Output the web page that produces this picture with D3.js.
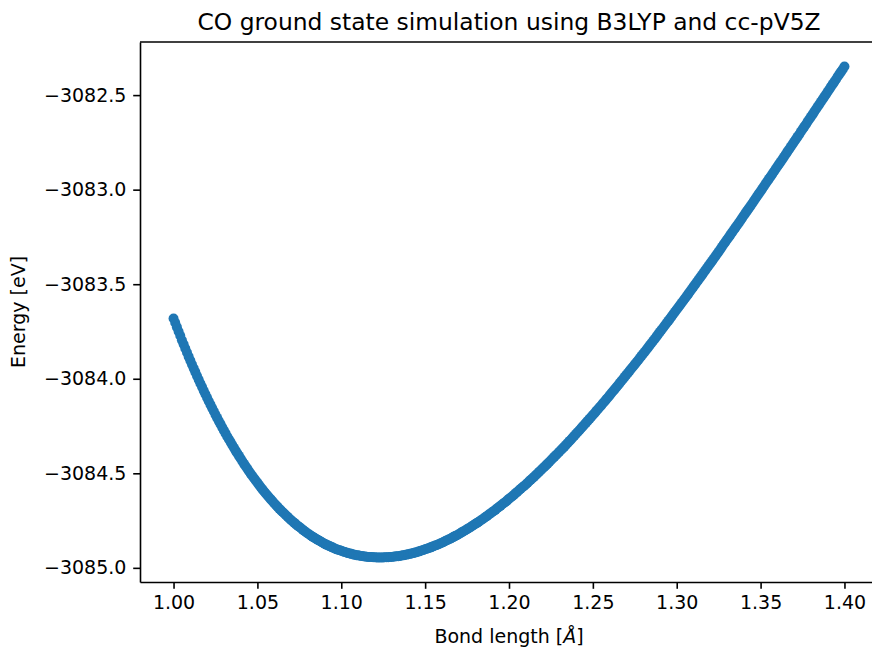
<!DOCTYPE html>
<html>
<head>
<meta charset="utf-8">
<script src="https://cdn.jsdelivr.net/npm/d3@7"></script>
<style>
  body { margin: 0; background: white; }
  text { font-family: "DejaVu Sans", sans-serif; fill: #000; }
</style>
</head>
<body>
<div id="container"></div>
<script>
let w = 872;
let h = 648;

// bond length [Å], one row per 0.01
let bondLength = [
  1.000, 1.001, 1.002, 1.003, 1.004, 1.005, 1.006, 1.007, 1.008, 1.009,
  1.010, 1.011, 1.012, 1.013, 1.014, 1.015, 1.016, 1.017, 1.018, 1.019,
  1.020, 1.021, 1.022, 1.023, 1.024, 1.025, 1.026, 1.027, 1.028, 1.029,
  1.030, 1.031, 1.032, 1.033, 1.034, 1.035, 1.036, 1.037, 1.038, 1.039,
  1.040, 1.041, 1.042, 1.043, 1.044, 1.045, 1.046, 1.047, 1.048, 1.049,
  1.050, 1.051, 1.052, 1.053, 1.054, 1.055, 1.056, 1.057, 1.058, 1.059,
  1.060, 1.061, 1.062, 1.063, 1.064, 1.065, 1.066, 1.067, 1.068, 1.069,
  1.070, 1.071, 1.072, 1.073, 1.074, 1.075, 1.076, 1.077, 1.078, 1.079,
  1.080, 1.081, 1.082, 1.083, 1.084, 1.085, 1.086, 1.087, 1.088, 1.089,
  1.090, 1.091, 1.092, 1.093, 1.094, 1.095, 1.096, 1.097, 1.098, 1.099,
  1.100, 1.101, 1.102, 1.103, 1.104, 1.105, 1.106, 1.107, 1.108, 1.109,
  1.110, 1.111, 1.112, 1.113, 1.114, 1.115, 1.116, 1.117, 1.118, 1.119,
  1.120, 1.121, 1.122, 1.123, 1.124, 1.125, 1.126, 1.127, 1.128, 1.129,
  1.130, 1.131, 1.132, 1.133, 1.134, 1.135, 1.136, 1.137, 1.138, 1.139,
  1.140, 1.141, 1.142, 1.143, 1.144, 1.145, 1.146, 1.147, 1.148, 1.149,
  1.150, 1.151, 1.152, 1.153, 1.154, 1.155, 1.156, 1.157, 1.158, 1.159,
  1.160, 1.161, 1.162, 1.163, 1.164, 1.165, 1.166, 1.167, 1.168, 1.169,
  1.170, 1.171, 1.172, 1.173, 1.174, 1.175, 1.176, 1.177, 1.178, 1.179,
  1.180, 1.181, 1.182, 1.183, 1.184, 1.185, 1.186, 1.187, 1.188, 1.189,
  1.190, 1.191, 1.192, 1.193, 1.194, 1.195, 1.196, 1.197, 1.198, 1.199,
  1.200, 1.201, 1.202, 1.203, 1.204, 1.205, 1.206, 1.207, 1.208, 1.209,
  1.210, 1.211, 1.212, 1.213, 1.214, 1.215, 1.216, 1.217, 1.218, 1.219,
  1.220, 1.221, 1.222, 1.223, 1.224, 1.225, 1.226, 1.227, 1.228, 1.229,
  1.230, 1.231, 1.232, 1.233, 1.234, 1.235, 1.236, 1.237, 1.238, 1.239,
  1.240, 1.241, 1.242, 1.243, 1.244, 1.245, 1.246, 1.247, 1.248, 1.249,
  1.250, 1.251, 1.252, 1.253, 1.254, 1.255, 1.256, 1.257, 1.258, 1.259,
  1.260, 1.261, 1.262, 1.263, 1.264, 1.265, 1.266, 1.267, 1.268, 1.269,
  1.270, 1.271, 1.272, 1.273, 1.274, 1.275, 1.276, 1.277, 1.278, 1.279,
  1.280, 1.281, 1.282, 1.283, 1.284, 1.285, 1.286, 1.287, 1.288, 1.289,
  1.290, 1.291, 1.292, 1.293, 1.294, 1.295, 1.296, 1.297, 1.298, 1.299,
  1.300, 1.301, 1.302, 1.303, 1.304, 1.305, 1.306, 1.307, 1.308, 1.309,
  1.310, 1.311, 1.312, 1.313, 1.314, 1.315, 1.316, 1.317, 1.318, 1.319,
  1.320, 1.321, 1.322, 1.323, 1.324, 1.325, 1.326, 1.327, 1.328, 1.329,
  1.330, 1.331, 1.332, 1.333, 1.334, 1.335, 1.336, 1.337, 1.338, 1.339,
  1.340, 1.341, 1.342, 1.343, 1.344, 1.345, 1.346, 1.347, 1.348, 1.349,
  1.350, 1.351, 1.352, 1.353, 1.354, 1.355, 1.356, 1.357, 1.358, 1.359,
  1.360, 1.361, 1.362, 1.363, 1.364, 1.365, 1.366, 1.367, 1.368, 1.369,
  1.370, 1.371, 1.372, 1.373, 1.374, 1.375, 1.376, 1.377, 1.378, 1.379,
  1.380, 1.381, 1.382, 1.383, 1.384, 1.385, 1.386, 1.387, 1.388, 1.389,
  1.390, 1.391, 1.392, 1.393, 1.394, 1.395, 1.396, 1.397, 1.398, 1.399,
  1.400
];

// energy [eV], same rows as bondLength
let energy = [
  -3083.681, -3083.704, -3083.727, -3083.750, -3083.773, -3083.796, -3083.818, -3083.840, -3083.861, -3083.883,
  -3083.904, -3083.925, -3083.945, -3083.965, -3083.985, -3084.005, -3084.025, -3084.044, -3084.063, -3084.082,
  -3084.100, -3084.119, -3084.137, -3084.155, -3084.172, -3084.190, -3084.207, -3084.224, -3084.240, -3084.257,
  -3084.273, -3084.289, -3084.305, -3084.320, -3084.335, -3084.350, -3084.365, -3084.380, -3084.394, -3084.408,
  -3084.422, -3084.436, -3084.450, -3084.463, -3084.476, -3084.489, -3084.502, -3084.514, -3084.526, -3084.538,
  -3084.550, -3084.562, -3084.574, -3084.585, -3084.596, -3084.607, -3084.617, -3084.628, -3084.638, -3084.648,
  -3084.658, -3084.668, -3084.677, -3084.687, -3084.696, -3084.705, -3084.713, -3084.722, -3084.730, -3084.739,
  -3084.747, -3084.755, -3084.762, -3084.770, -3084.777, -3084.784, -3084.791, -3084.798, -3084.805, -3084.812,
  -3084.818, -3084.824, -3084.830, -3084.836, -3084.841, -3084.847, -3084.852, -3084.857, -3084.862, -3084.867,
  -3084.872, -3084.877, -3084.881, -3084.885, -3084.889, -3084.893, -3084.897, -3084.901, -3084.904, -3084.907,
  -3084.910, -3084.913, -3084.916, -3084.919, -3084.922, -3084.924, -3084.926, -3084.929, -3084.931, -3084.933,
  -3084.934, -3084.936, -3084.937, -3084.939, -3084.940, -3084.941, -3084.942, -3084.943, -3084.943, -3084.944,
  -3084.944, -3084.945, -3084.945, -3084.945, -3084.945, -3084.945, -3084.944, -3084.944, -3084.944, -3084.943,
  -3084.942, -3084.941, -3084.940, -3084.939, -3084.938, -3084.937, -3084.935, -3084.934, -3084.932, -3084.930,
  -3084.928, -3084.926, -3084.924, -3084.922, -3084.919, -3084.917, -3084.914, -3084.911, -3084.908, -3084.905,
  -3084.902, -3084.899, -3084.896, -3084.893, -3084.889, -3084.886, -3084.882, -3084.879, -3084.875, -3084.871,
  -3084.867, -3084.863, -3084.858, -3084.854, -3084.850, -3084.846, -3084.841, -3084.836, -3084.831, -3084.827,
  -3084.822, -3084.817, -3084.811, -3084.806, -3084.801, -3084.796, -3084.790, -3084.785, -3084.779, -3084.773,
  -3084.767, -3084.762, -3084.756, -3084.750, -3084.744, -3084.738, -3084.731, -3084.725, -3084.718, -3084.712,
  -3084.705, -3084.699, -3084.692, -3084.685, -3084.678, -3084.671, -3084.664, -3084.657, -3084.650, -3084.643,
  -3084.635, -3084.628, -3084.621, -3084.613, -3084.605, -3084.598, -3084.590, -3084.582, -3084.574, -3084.567,
  -3084.559, -3084.551, -3084.542, -3084.534, -3084.526, -3084.518, -3084.509, -3084.501, -3084.492, -3084.484,
  -3084.475, -3084.467, -3084.458, -3084.449, -3084.440, -3084.431, -3084.422, -3084.413, -3084.404, -3084.395,
  -3084.386, -3084.377, -3084.368, -3084.359, -3084.349, -3084.340, -3084.330, -3084.321, -3084.311, -3084.301,
  -3084.291, -3084.282, -3084.272, -3084.262, -3084.252, -3084.242, -3084.232, -3084.222, -3084.212, -3084.202,
  -3084.192, -3084.182, -3084.171, -3084.161, -3084.151, -3084.141, -3084.130, -3084.120, -3084.109, -3084.099,
  -3084.088, -3084.077, -3084.066, -3084.056, -3084.045, -3084.034, -3084.023, -3084.012, -3084.001, -3083.990,
  -3083.979, -3083.968, -3083.957, -3083.946, -3083.935, -3083.924, -3083.913, -3083.902, -3083.890, -3083.879,
  -3083.868, -3083.857, -3083.845, -3083.834, -3083.822, -3083.811, -3083.799, -3083.788, -3083.776, -3083.764,
  -3083.752, -3083.741, -3083.729, -3083.717, -3083.705, -3083.694, -3083.682, -3083.670, -3083.658, -3083.646,
  -3083.634, -3083.622, -3083.610, -3083.598, -3083.586, -3083.574, -3083.562, -3083.550, -3083.537, -3083.525,
  -3083.513, -3083.501, -3083.488, -3083.476, -3083.464, -3083.452, -3083.439, -3083.427, -3083.414, -3083.402,
  -3083.390, -3083.378, -3083.365, -3083.353, -3083.340, -3083.328, -3083.315, -3083.302, -3083.289, -3083.277,
  -3083.264, -3083.252, -3083.239, -3083.226, -3083.213, -3083.201, -3083.188, -3083.176, -3083.163, -3083.150,
  -3083.137, -3083.124, -3083.111, -3083.099, -3083.086, -3083.073, -3083.060, -3083.047, -3083.034, -3083.021,
  -3083.008, -3082.995, -3082.982, -3082.969, -3082.956, -3082.943, -3082.930, -3082.917, -3082.904, -3082.891,
  -3082.878, -3082.865, -3082.852, -3082.839, -3082.826, -3082.813, -3082.799, -3082.786, -3082.773, -3082.760,
  -3082.747, -3082.734, -3082.721, -3082.708, -3082.694, -3082.681, -3082.668, -3082.655, -3082.641, -3082.628,
  -3082.615, -3082.602, -3082.588, -3082.575, -3082.562, -3082.549, -3082.535, -3082.522, -3082.509, -3082.496,
  -3082.482, -3082.469, -3082.455, -3082.442, -3082.429, -3082.416, -3082.402, -3082.389, -3082.376, -3082.363,
  -3082.349
];

let xTicks = [1.00, 1.05, 1.10, 1.15, 1.20, 1.25, 1.30, 1.35, 1.40];
let yTicks = [-3085.0, -3084.5, -3084.0, -3083.5, -3083.0, -3082.5];

let titleText = "CO ground state simulation using B3LYP and cc-pV5Z";
let xLabelText = "Bond length [";
let xLabelUnit = "Å";
let yLabelText = "Energy [eV]";

let data = bondLength.map(function(b, i){
  return {x: b, y: energy[i]};
});

let viz = d3.select("#container")
    .append("svg")
      .attr("width", w)
      .attr("height", h)
      .style("background-color", "white")
;

// axes box (right edge falls outside the picture, like the original)
let axLeft = 140;
let axRight = 878;
let axTop = 42;
let axBottom = 582;

let tickLen = 6.8;
let tickPad = 6.8;
let fontSize = 19;

// matplotlib-like 5% margins
let xExt = d3.extent(bondLength);
let xPad = (xExt[1] - xExt[0]) * 0.05;
let xScale = d3.scaleLinear().domain([xExt[0] - xPad, xExt[1] + xPad]).range([axLeft, axRight]);

let yExt = d3.extent(energy);
let yPad = (yExt[1] - yExt[0]) * 0.05;
let yScale = d3.scaleLinear().domain([yExt[0] - yPad, yExt[1] + yPad]).range([axBottom, axTop]);

// dots
viz.append("g")
  .selectAll("circle")
  .data(data)
  .enter()
  .append("circle")
    .attr("cx", function(d){ return xScale(d.x); })
    .attr("cy", function(d){ return yScale(d.y); })
    .attr("r", 5.0)
    .attr("fill", "#1f77b4")
;

// frame: top and right spines
viz.append("line")
  .attr("x1", axLeft).attr("x2", axRight)
  .attr("y1", axTop).attr("y2", axTop)
  .attr("stroke", "#000").attr("stroke-width", 1.6);
viz.append("line")
  .attr("x1", axRight).attr("x2", axRight)
  .attr("y1", axTop).attr("y2", axBottom)
  .attr("stroke", "#000").attr("stroke-width", 1.6);

let xAxis = d3.axisBottom(xScale)
  .tickValues(xTicks)
  .tickFormat(d3.format(".2f"))
  .tickSizeInner(tickLen)
  .tickSizeOuter(0)
  .tickPadding(tickPad);
let xAxisGroup = viz.append("g").attr("class", "xaxis");
xAxisGroup.attr("transform", "translate(0, " + axBottom + ")");
xAxisGroup.call(xAxis);

let yAxis = d3.axisLeft(yScale)
  .tickValues(yTicks)
  .tickFormat(d3.format(".1f"))
  .tickSizeInner(tickLen)
  .tickSizeOuter(0)
  .tickPadding(tickPad);
let yAxisGroup = viz.append("g").attr("class", "yaxis");
yAxisGroup.attr("transform", "translate(" + axLeft + ", 0)");
yAxisGroup.call(yAxis);

viz.selectAll(".xaxis path, .yaxis path, .xaxis line, .yaxis line")
  .attr("stroke", "#000")
  .attr("stroke-width", 1.6);
viz.selectAll(".xaxis text, .yaxis text")
  .attr("font-family", "DejaVu Sans")
  .attr("font-size", fontSize)
  .attr("fill", "#000");

// title and labels
viz.append("text")
  .attr("x", (axLeft + axRight) / 2)
  .attr("y", 30)
  .attr("text-anchor", "middle")
  .attr("font-size", 23.4)
  .text(titleText);

let xLabel = viz.append("text")
  .attr("x", (axLeft + axRight) / 2)
  .attr("y", 643)
  .attr("text-anchor", "middle")
  .attr("font-size", fontSize);
xLabel.append("tspan").text(xLabelText);
xLabel.append("tspan").attr("font-style", "italic").text(xLabelUnit);
xLabel.append("tspan").text("]");

viz.append("text")
  .attr("transform", "translate(25, " + ((axTop + axBottom) / 2) + ") rotate(-90)")
  .attr("text-anchor", "middle")
  .attr("font-size", fontSize)
  .text(yLabelText);
</script>
</body>
</html>
